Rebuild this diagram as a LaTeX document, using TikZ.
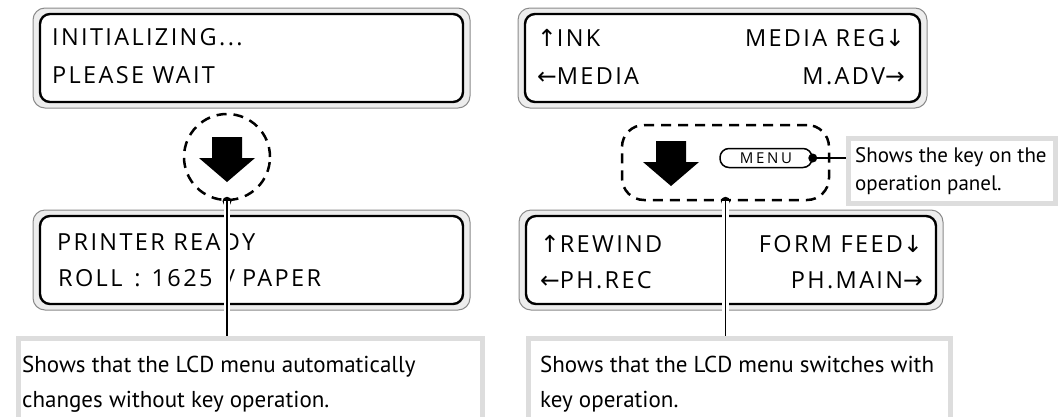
\documentclass[tikz,border=0pt]{standalone}
\usepackage{fontspec}
\newfontfamily\lcdfont[LetterSpace=10]{Open Sans}
\newfontfamily\keyfont[LetterSpace=18]{Open Sans}
\newfontfamily\arrfont{DejaVu Sans}
\newfontfamily\callfont{PT Sans}
\newcommand\UAr{{\arrfont ↑}}
\newcommand\DAr{{\arrfont ↓}}
\newcommand\LAr{{\arrfont ←}}
\newcommand\RAr{{\arrfont →}}
\definecolor{framegray}{HTML}{8A8A8A}
\definecolor{framefill}{HTML}{EDEDED}
\definecolor{boxgray}{HTML}{DDDDDD}
\tikzset{
  lcdouter/.style={draw=framegray, fill=framefill, line width=1pt, rounded corners=12pt, inner sep=0pt},
  lcdinner/.style={draw=black, fill=white, line width=2.4pt, rounded corners=10pt, inner sep=0pt},
  lcdtext/.style={font=\lcdfont\fontsize{23.5}{23.5}\selectfont, inner sep=0pt},
  callbox/.style={draw=boxgray, fill=white, line width=5pt, inner sep=0pt},
  calltext/.style={font=\callfont\fontsize{23}{23}\selectfont, inner sep=0pt, anchor=base west},
  smalltext/.style={font=\callfont\fontsize{21}{21}\selectfont, inner sep=0pt, anchor=base west},
  dashring/.style={draw=black, line width=2.5pt, dash pattern=on 10pt off 7pt, inner sep=0pt},
  blackdot/.style={circle, fill=black, inner sep=0pt, minimum size=9pt},
  leader/.style={draw=white, double=black, double distance=1.2pt, line width=2.5pt},
  bigarrow/.style={fill=black},
}
\begin{document}
\begin{tikzpicture}[x=1pt,y=-1pt]
\useasboundingbox (0,0) rectangle (1058,416);
% ---------- left column LCDs
\node[lcdouter, minimum width=437pt, minimum height=100pt] (lo1) at (251.5,58) {};
\node[lcdinner, minimum width=423pt, minimum height=88pt] (li1) at (lo1.center) {};
\node[lcdtext, anchor=base west] (t11) at (52,45) {INITIALIZING...};
\node[lcdtext, anchor=base west] (t12) at (52,83) {PLEASE WAIT};

\node[lcdouter, minimum width=437pt, minimum height=100pt] (lo2) at (251.5,260) {};
\node[lcdinner, minimum width=423pt, minimum height=88pt] (li2) at (lo2.center) {};
\node[lcdtext, anchor=base west] (t21) at (57,250) {PRINTER READY};
\node[lcdtext, anchor=base west] (t22) at (58,286) {ROLL\hspace{12pt}:\hspace{11pt}1625\hspace{14pt}/\hspace{7pt}PAPER};

% ---------- right column LCDs
\node[lcdouter, minimum width=409pt, minimum height=100pt] (lo3) at (722.5,58) {};
\node[lcdinner, minimum width=395pt, minimum height=88pt] (li3) at (lo3.center) {};
\node[lcdtext, anchor=base west] (t31) at (537,46) {\UAr INK};
\node[lcdtext, anchor=base east] (t32) at (905,46) {MEDIA REG\DAr};
\node[lcdtext, anchor=base west] (t33) at (537,84) {\LAr MEDIA};
\node[lcdtext, anchor=base east] (t34) at (905,84) {M.ADV\RAr};

\node[lcdouter, minimum width=424pt, minimum height=100pt] (lo4) at (731,260) {};
\node[lcdinner, minimum width=410pt, minimum height=88pt] (li4) at (lo4.center) {};
\node[lcdtext, anchor=base west] (t41) at (540,252) {\UAr REWIND};
\node[lcdtext, anchor=base east] (t42) at (923,252) {FORM FEED\DAr};
\node[lcdtext, anchor=base west] (t43) at (540,288) {\LAr PH.REC};
\node[lcdtext, anchor=base east] (t44) at (923,288) {PH.MAIN\RAr};

% ---------- callout boxes
\node[callbox, minimum width=464pt, minimum height=100pt, anchor=north west] (cb1) at (15.5,335.5) {};
\node[calltext] (c11) at (22,372) {Shows that the LCD menu automatically};
\node[calltext] (c12) at (22,407) {changes without key operation.};

\node[callbox, minimum width=422pt, minimum height=100pt, anchor=north west] (cb2) at (525.5,335.5) {};
\node[calltext] (c21) at (540,372) {Shows that the LCD menu switches with};
\node[calltext] (c22) at (540,407) {key operation.};

\node[callbox, minimum width=207pt, minimum height=65pt, anchor=north west] (cb3) at (845.5,135.5) {};
\node[smalltext] (c31) at (855,162) {Shows the key on the};
\node[smalltext] (c32) at (855,190) {operation panel.};

% ---------- left: dashed circle with arrow
\node[dashring, circle, minimum size=86pt] (ring) at (227,157) {};
\fill[bigarrow] (212,137) -- (242,137) -- (242,158) -- (255,158) -- (227,182) -- (199,158) -- (212,158) -- cycle;
\node[blackdot] (d1) at (ring.south) {};
\draw[leader] (d1.center) -- (cb1.north -| d1);

% ---------- right: dashed rounded rectangle with arrow and MENU key
\node[dashring, rounded corners=22pt, minimum width=207pt, minimum height=75pt] (rrect) at (725.5,162.5) {};
\fill[bigarrow] (656,141) -- (686,141) -- (686,162) -- (699,162) -- (671,186) -- (643,162) -- (656,162) -- cycle;
\node[draw=black, line width=1.5pt, rounded corners=9pt, minimum width=92pt, minimum height=19pt, inner sep=0pt,
      font=\keyfont\fontsize{15}{15}\selectfont] (menu) at (766,158) {MENU};
\node[blackdot] (d3) at (menu.east) {};
\draw[line width=1.2pt] (d3.center) -- (cb3.west |- d3);
\node[blackdot] (d2) at (rrect.south) {};
\draw[leader] (d2.center) -- (cb2.north -| d2);
\end{tikzpicture}
\end{document}
